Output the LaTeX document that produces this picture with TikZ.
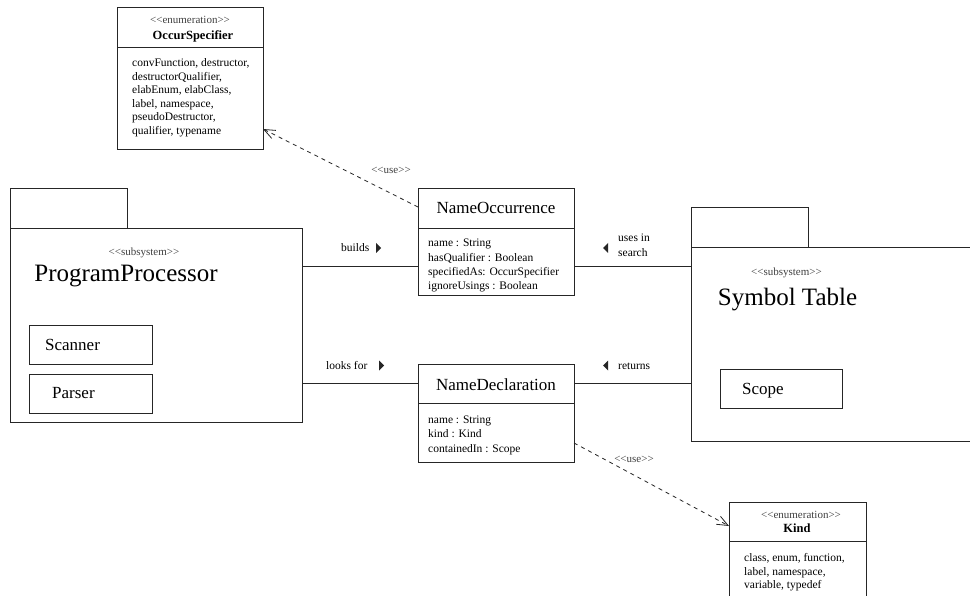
\documentclass[tikz,border=0pt]{standalone}
\usepackage{fontspec}
\setmainfont{Liberation Serif}[Ligatures=TeXOff]
\usetikzlibrary{arrows.meta}
\begin{document}
\begin{tikzpicture}[x=1pt,y=-1pt,
  frame/.style={draw=black!85, line width=0.9pt, inner sep=0pt, outer sep=0pt, anchor=north west},
  classtitle/.style={font=\fontsize{17}{20}\selectfont, anchor=base, inner sep=0pt},
  pkgtitle/.style={font=\fontsize{25}{28}\selectfont, anchor=base, inner sep=0pt},
  inner/.style={font=\fontsize{17}{20}\selectfont, anchor=base west, inner sep=0pt},
  attr/.style={font=\fontsize{11.5}{14}\selectfont, anchor=base west, inner sep=0pt},
  lbl/.style={font=\fontsize{11.5}{14}\selectfont, anchor=base west, inner sep=0pt},
  stereo/.style={font=\fontsize{11}{13}\selectfont, text=black!75, anchor=base, inner sep=0pt},
  enumname/.style={font={\fontsize{12.5}{14}\selectfont\bfseries}, anchor=base, inner sep=0pt},
  link/.style={draw=black!85, line width=0.9pt},
  uselink/.style={draw=black!85, line width=0.8pt, dash pattern=on 4pt off 4pt, -{Straight Barb[length=11pt,width=9pt]}}
]
\clip (0,0) rectangle (970,596);
\fill[white] (0,0) rectangle (970,596);

% OccurSpecifier
\node[frame, minimum width=146pt, minimum height=142pt] (os) at (117,7) {};
\coordinate (osd) at (0,47);
\draw[link] (os.west |- osd) -- (os.east |- osd);
\node[stereo] (osst) at (190,23.5) {<<enumeration>>};
\node[enumname] (osname) at (193,39.5) {OccurSpecifier};
\node[attr] (os1) at (132,67) {convFunction, destructor,};
\node[attr] (os2) at (132,80.5) {destructorQualifier,};
\node[attr] (os3) at (132,94) {elabEnum, elabClass,};
\node[attr] (os4) at (132,107.5) {label, namespace,};
\node[attr] (os5) at (132,121) {pseudoDestructor,};
\node[attr] (os6) at (132,134.5) {qualifier, typename};

% NameOccurrence
\node[frame, minimum width=156pt, minimum height=107pt] (no) at (418,188) {};
\coordinate (nod) at (0,228);
\draw[link] (no.west |- nod) -- (no.east |- nod);
\node[classtitle] (notitle) at (496,214) {NameOccurrence};
\node[attr] (no1) at (428,247) {name : String};
\node[attr] (no2) at (428,261.5) {hasQualifier : Boolean};
\node[attr] (no3) at (428,276) {specifiedAs: OccurSpecifier};
\node[attr] (no4) at (428,290) {ignoreUsings : Boolean};

% NameDeclaration
\node[frame, minimum width=156pt, minimum height=98pt] (nd) at (418,364) {};
\coordinate (ndd) at (0,403);
\draw[link] (nd.west |- ndd) -- (nd.east |- ndd);
\node[classtitle] (ndtitle) at (496,390) {NameDeclaration};
\node[attr] (nd1) at (428,423) {name : String};
\node[attr] (nd2) at (428,437.5) {kind : Kind};
\node[attr] (nd3) at (428,452) {containedIn : Scope};

% Kind
\node[frame, minimum width=137pt, minimum height=110pt] (kind) at (729,502) {};
\coordinate (kd) at (0,541);
\draw[link] (kind.west |- kd) -- (kind.east |- kd);
\node[stereo] (kst) at (801,518.5) {<<enumeration>>};
\node[enumname] (kname) at (797,532.5) {Kind};
\node[attr] (k1) at (744,561) {class, enum, function,};
\node[attr] (k2) at (744,575) {label, namespace,};
\node[attr] (k3) at (744,588.5) {variable, typedef};

% ProgramProcessor package
\node[frame, minimum width=117pt, minimum height=40pt] (pptab) at (10,188) {};
\node[frame, minimum width=292pt, minimum height=194pt] (ppbody) at (10,228) {};
\node[stereo] (ppst) at (144,255.5) {<<subsystem>>};
\node[pkgtitle] (ppname) at (126,282) {ProgramProcessor};
\node[frame, minimum width=123pt, minimum height=39pt] (scanbox) at (29,325) {};
\node[inner] (scan) at (45,350) {Scanner};
\node[frame, minimum width=123pt, minimum height=39pt] (parsebox) at (29,374) {};
\node[inner] (parse) at (52,398) {Parser};

% Symbol Table package
\node[frame, minimum width=117pt, minimum height=40pt] (sttab) at (691,207) {};
\node[frame, minimum width=300pt, minimum height=194pt] (stbody) at (691,247) {};
\node[stereo] (stst) at (786.5,275.5) {<<subsystem>>};
\node[pkgtitle] (stname) at (787.5,306) {Symbol Table};
\node[frame, minimum width=122pt, minimum height=39pt] (scopebox) at (720,369) {};
\node[inner] (scope) at (742,394) {Scope};

% associations
\coordinate (r1) at (0,266);
\coordinate (r2) at (0,383);
\draw[link] (ppbody.east |- r1) -- (no.west |- r1);
\draw[link] (no.east |- r1) -- (stbody.west |- r1);
\draw[link] (ppbody.east |- r2) -- (nd.west |- r2);
\draw[link] (nd.east |- r2) -- (stbody.west |- r2);

\node[lbl] (lbuilds) at (341,252) {builds};
\fill[black!85] (376,243) -- (381,248) -- (376,253) -- cycle;
\node[lbl] (llooks) at (326,369) {looks for};
\fill[black!85] (379,360.5) -- (384,365.5) -- (379,370.5) -- cycle;
\node[lbl] (luses) at (618,242) {uses in};
\node[lbl] (lsearch) at (618,257) {search};
\fill[black!85] (608,243) -- (603,248) -- (608,253) -- cycle;
\node[lbl] (lreturns) at (618,369) {returns};
\fill[black!85] (608,360.5) -- (603,365.5) -- (608,370.5) -- cycle;

% dependencies
\coordinate (d1) at (0,207);
\coordinate (d2) at (0,129);
\draw[uselink] (no.west |- d1) -- (os.east |- d2);
\node[stereo] (use1) at (391,174) {<<use>>};
\coordinate (d3) at (0,443);
\coordinate (d4) at (0,526);
\draw[uselink] (nd.east |- d3) -- (kind.west |- d4);
\node[stereo] (use2) at (634,462) {<<use>>};
\end{tikzpicture}
\end{document}
